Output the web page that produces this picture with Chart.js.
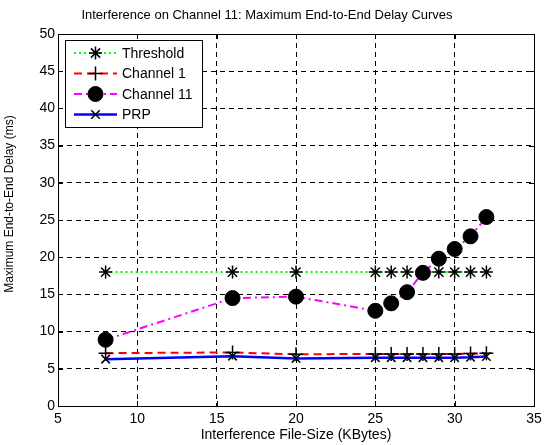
<!DOCTYPE html>
<html>
<head>
<meta charset="utf-8">
<script src="https://cdn.jsdelivr.net/npm/chart.js@4/dist/chart.umd.min.js"></script>
<style>
  html, body { margin: 0; padding: 0; background: #fff; }
  #wrap { width: 552px; height: 445px; }
</style>
</head>
<body>
<div id="wrap"><canvas id="chart" width="552" height="445"></canvas></div>
<script>
// data
const fileSizes = [8, 16, 20, 25, 26, 27, 28, 29, 30, 31, 32];
const threshold = [18, 18, 18, 18, 18, 18, 18, 18, 18, 18, 18];
const channel1 = [7.1, 7.2, 6.95, 7.0, 7.0, 7.0, 7.0, 7.0, 7.0, 7.05, 7.1];
const channel11 = [8.9, 14.5, 14.7, 12.8, 13.8, 15.3, 17.9, 19.8, 21.1, 22.8, 25.4];
const prp = [6.3, 6.7, 6.4, 6.5, 6.5, 6.5, 6.5, 6.5, 6.5, 6.55, 6.65];

const xTicks = [5, 10, 15, 20, 25, 30, 35];
const yTicks = [0, 5, 10, 15, 20, 25, 30, 35, 40, 45, 50];

const yTitle = 'Maximum End-to-End Delay (ms)';

const FONT = 'Liberation Sans, Arial, sans-serif';

const toPoints = (ys) => fileSizes.map((x, i) => ({ x: x, y: ys[i] }));

// MATLAB-like box, inward ticks, y label and legend
const matlabFrame = {
  id: 'matlabFrame',
  afterDraw(chart) {
    const { ctx, chartArea: a, scales } = chart;
    ctx.save();
    ctx.strokeStyle = '#000';
    ctx.lineWidth = 1;
    ctx.setLineDash([]);
    ctx.strokeRect(a.left + 0.5, a.top + 0.5, a.right - a.left, a.bottom - a.top);

    // inward tick marks
    const t = 5;
    ctx.beginPath();
    xTicks.forEach(v => {
      const px = Math.round(scales.x.getPixelForValue(v)) + 0.5;
      ctx.moveTo(px, a.bottom); ctx.lineTo(px, a.bottom - t);
      ctx.moveTo(px, a.top); ctx.lineTo(px, a.top + t);
    });
    yTicks.forEach(v => {
      const py = Math.round(scales.y.getPixelForValue(v)) + 0.5;
      ctx.moveTo(a.left, py); ctx.lineTo(a.left + t, py);
      ctx.moveTo(a.right, py); ctx.lineTo(a.right - t, py);
    });
    ctx.stroke();

    // y axis label (sits a bit above the centre in the original)
    ctx.save();
    ctx.translate(10, 204);
    ctx.rotate(-Math.PI / 2);
    ctx.fillStyle = '#000';
    ctx.font = '12px ' + FONT;
    ctx.textAlign = 'center';
    ctx.textBaseline = 'middle';
    ctx.fillText(yTitle, 0, 0);
    ctx.restore();

    // legend box
    const bx = a.left + 7, by = a.top + 6, bw = 137, bh = 87;
    ctx.fillStyle = '#fff';
    ctx.fillRect(bx, by, bw, bh);
    ctx.strokeRect(bx + 0.5, by + 0.5, bw, bh);

    chart.data.datasets.forEach((ds, i) => {
      const y = by + 13 + i * 20.5;
      const x0 = bx + 9, x1 = bx + 52, xm = (x0 + x1) / 2;
      ctx.save();
      ctx.strokeStyle = ds.borderColor;
      ctx.lineWidth = ds.borderWidth;
      ctx.setLineDash(ds.borderDash || []);
      ctx.beginPath();
      ctx.moveTo(x0, y); ctx.lineTo(x1, y);
      ctx.stroke();
      ctx.restore();

      ctx.save();
      ctx.strokeStyle = ds.pointBorderColor;
      ctx.fillStyle = ds.pointBackgroundColor;
      ctx.lineWidth = ds.pointBorderWidth;
      Chart.helpers.drawPoint(ctx, {
        pointStyle: ds.pointStyle,
        radius: ds.pointRadius,
        rotation: 0,
        borderWidth: ds.pointBorderWidth
      }, xm, y);
      ctx.restore();

      ctx.fillStyle = '#000';
      ctx.font = '14px ' + FONT;
      ctx.textBaseline = 'middle';
      ctx.textAlign = 'left';
      ctx.fillText(ds.label, bx + 57, y + 1);
    });
    ctx.restore();
  }
};

new Chart(document.getElementById('chart'), {
  type: 'line',
  data: {
    datasets: [
      {
        label: 'Threshold',
        data: toPoints(threshold),
        borderColor: '#00ff00',
        borderWidth: 2,
        borderDash: [2, 3],
        pointStyle: 'star',
        pointRadius: 6.5,
        pointBorderColor: '#000',
        pointBackgroundColor: '#000',
        pointBorderWidth: 1.5,
        order: 3
      },
      {
        label: 'Channel 1',
        data: toPoints(channel1),
        borderColor: '#ff0000',
        borderWidth: 2,
        borderDash: [8, 5],
        pointStyle: 'cross',
        pointRadius: 7,
        pointBorderColor: '#000',
        pointBackgroundColor: '#000',
        pointBorderWidth: 1.5,
        order: 2
      },
      {
        label: 'Channel 11',
        data: toPoints(channel11),
        borderColor: '#ff00ff',
        borderWidth: 2,
        borderDash: [8, 4, 2, 4],
        pointStyle: 'circle',
        pointRadius: 7.5,
        pointBorderColor: '#000',
        pointBackgroundColor: '#000',
        pointBorderWidth: 1,
        order: 1
      },
      {
        label: 'PRP',
        data: toPoints(prp),
        borderColor: '#0000ff',
        borderWidth: 2.5,
        borderDash: [],
        pointStyle: 'crossRot',
        pointRadius: 6,
        pointBorderColor: '#000',
        pointBackgroundColor: '#000',
        pointBorderWidth: 1.5,
        order: 0
      }
    ]
  },
  options: {
    responsive: false,
    animation: false,
    layout: { padding: { left: 0, right: 18, top: 0, bottom: 0 } },
    plugins: {
      legend: { display: false },
      tooltip: { enabled: false },
      title: {
        display: true,
        text: 'Interference on Channel 11: Maximum End-to-End Delay Curves',
        color: '#000',
        font: { family: FONT, size: 13, weight: 'normal' },
        padding: { top: 8, bottom: 10.4 }
      }
    },
    elements: { line: { tension: 0, fill: false } },
    scales: {
      x: {
        type: 'linear',
        min: 5,
        max: 35,
        afterBuildTicks: (s) => { s.ticks = xTicks.map(v => ({ value: v })); },
        afterFit: (s) => { s.height = 39; },
        grid: { color: '#000', lineWidth: 1, drawTicks: false },
        border: { display: false, dash: [5, 4] },
        ticks: { color: '#000', font: { family: FONT, size: 14 }, padding: 5, maxRotation: 0 },
        title: {
          display: true,
          text: 'Interference File-Size (KBytes)',
          color: '#000',
          font: { family: FONT, size: 14 },
          padding: { top: 0, bottom: 1 }
        }
      },
      y: {
        min: 0,
        max: 50,
        afterBuildTicks: (s) => { s.ticks = yTicks.map(v => ({ value: v })); },
        afterFit: (s) => { s.width = 58; },
        grid: { color: '#000', lineWidth: 1, drawTicks: false },
        border: { display: false, dash: [5, 4] },
        ticks: { color: '#000', font: { family: FONT, size: 14 }, padding: 3 },
        title: { display: false }
      }
    }
  },
  plugins: [matlabFrame]
});
</script>
</body>
</html>
